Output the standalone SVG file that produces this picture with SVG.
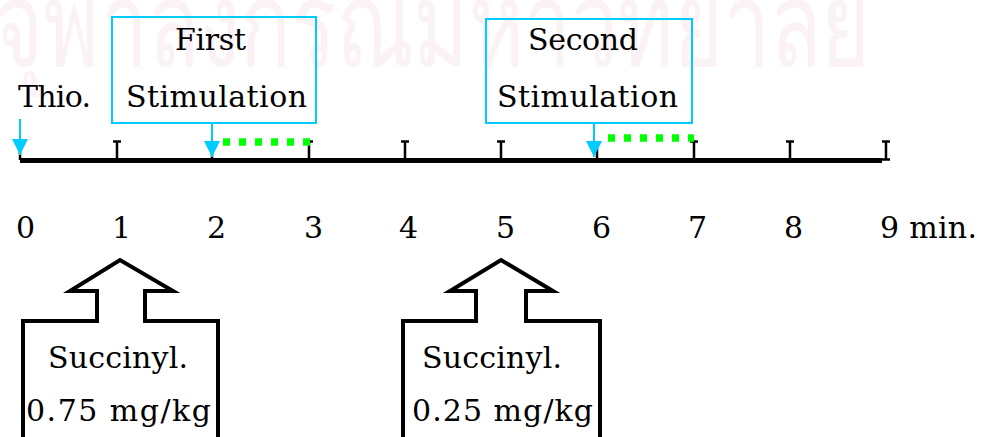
<svg xmlns="http://www.w3.org/2000/svg" width="981" height="437" viewBox="0 0 981 437">
  <style>
    .t { font-family: "DejaVu Serif", "Liberation Serif", serif; font-size: 30px; fill: #000; }
    .wm { font-family: "Noto Sans", "DejaVu Sans", sans-serif; font-size: 118px; fill: #faf2f5; }
    .box { fill: none; stroke: #00ccff; stroke-width: 2; }
    .cy { fill: none; stroke: #00ccff; stroke-width: 2; }
    .dot { fill: none; stroke: #00ff00; stroke-width: 7.5; stroke-dasharray: 7 9; }
    .axis { stroke: #000; stroke-width: 5; }
    .tick { fill: none; stroke: #000; stroke-width: 2.5; }
    .blk { fill: none; stroke: #000; stroke-width: 4; stroke-linejoin: miter; }
  </style>
  <defs>
    <marker id="ah" markerUnits="userSpaceOnUse" markerWidth="16" markerHeight="16" refX="16" refY="8" orient="auto">
      <path d="M0,0 L16,8 L0,16 Z" fill="#00ccff"/>
    </marker>
  </defs>
  <rect width="981" height="437" fill="#fff"/>
  <text class="wm" x="-6" y="66" textLength="876" lengthAdjust="spacingAndGlyphs">จุฬาลงกรณ์มหาวิทยาลัย</text>

  <g id="axis">
    <line class="axis" x1="20" y1="160.5" x2="882" y2="160.5"/>
    <path class="tick" d="M20,141V160 M117,141V160 M113,141.5H121 M212,141V160 M309,141V160 M305,141.5H313 M405,141V160 M401,141.5H409 M501,141V160 M497,141.5H505 M597,141V160 M694,141V160 M690,141.5H698 M790,141V160 M786,141.5H794 M886,141V160 M882,141.5H890 M882,159.5H890"/>
  </g>

  <g id="labels">
    <text class="t" x="16" y="238">0</text>
    <text class="t" x="112" y="238">1</text>
    <text class="t" x="207" y="238">2</text>
    <text class="t" x="304" y="238">3</text>
    <text class="t" x="399" y="238">4</text>
    <text class="t" x="496" y="238">5</text>
    <text class="t" x="592" y="238">6</text>
    <text class="t" x="688" y="238">7</text>
    <text class="t" x="784" y="238">8</text>
    <text class="t" x="880" y="238" textLength="97">9 min.</text>
  </g>

  <g id="thio">
    <text class="t" x="18" y="107" textLength="73">Thio.</text>
  </g>

  <g id="first-stimulation">
    <rect class="box" x="112" y="17" width="204" height="106"/>
    <text class="t" x="175" y="50" textLength="71">First</text>
    <text class="t" x="126" y="107" textLength="181">Stimulation</text>
  </g>

  <g id="second-stimulation">
    <rect class="box" x="486" y="19" width="206" height="104"/>
    <text class="t" x="528" y="50" textLength="110">Second</text>
    <text class="t" x="497" y="107" textLength="181">Stimulation</text>
  </g>

  <g id="succinyl-1">
    <path class="blk" d="M23,440 V321 H97 V291 H70 L120,260 L173,291 H145 V321 H218 V440"/>
    <text class="t" x="48" y="368" textLength="140">Succinyl.</text>
    <text class="t" x="26" y="421" textLength="185">0.75 mg/kg</text>
  </g>

  <g id="succinyl-2">
    <path class="blk" d="M403,440 V321 H476 V291 H450 L501,260 L553,291 H526 V321 H600 V440"/>
    <text class="t" x="422" y="368" textLength="140">Succinyl.</text>
    <text class="t" x="412" y="421" textLength="181">0.25 mg/kg</text>
  </g>

  <g id="connectors">
    <line class="cy" x1="20" y1="119" x2="20" y2="155" marker-end="url(#ah)"/>
    <line class="cy" x1="212" y1="123" x2="212" y2="157" marker-end="url(#ah)"/>
    <line class="cy" x1="594" y1="123" x2="594" y2="157" marker-end="url(#ah)"/>
    <line class="dot" x1="223" y1="142" x2="310" y2="142"/>
    <line class="dot" x1="608" y1="138" x2="694" y2="138"/>
  </g>
</svg>
